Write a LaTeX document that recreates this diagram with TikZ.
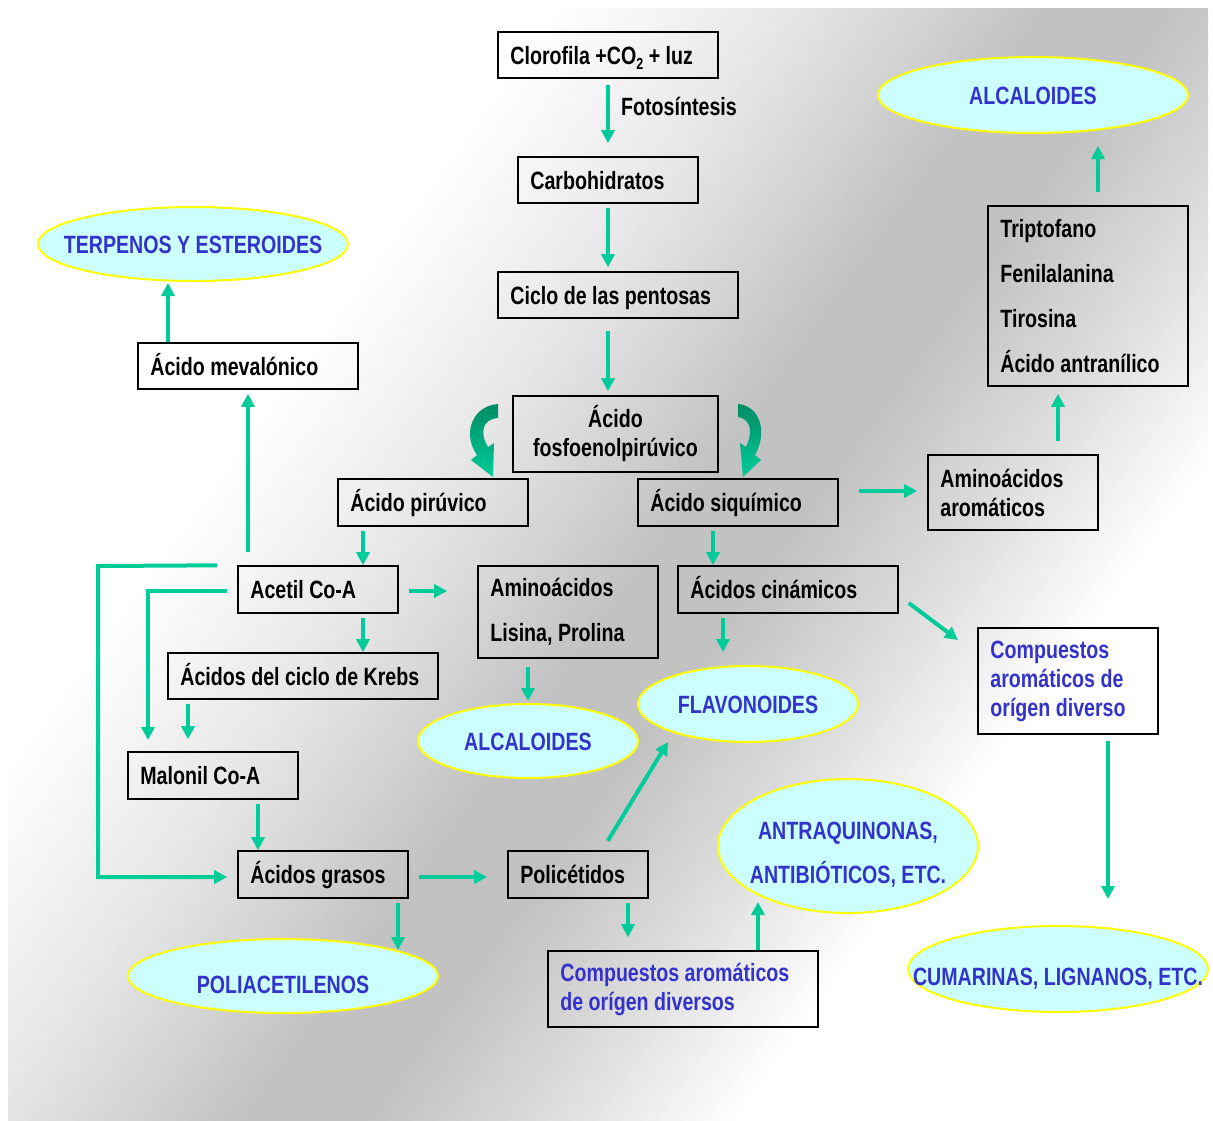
\documentclass[tikz,border=0pt]{standalone}
\usepackage{fontspec}
\setmainfont{Liberation Sans}[FakeStretch=0.785]
\usetikzlibrary{arrows.meta,shapes.geometric}
\definecolor{arrc}{RGB}{0,204,153}
\definecolor{darc}{RGB}{0,140,100}
\definecolor{bluet}{RGB}{51,51,204}
\definecolor{ellf}{RGB}{204,255,255}
\definecolor{elld}{RGB}{255,255,0}
\newcommand\labf{\bfseries\fontsize{25}{29}\selectfont}
\newcommand\mkbox[8][]{%
 \pgfmathsetmacro\bw{#5-#3}\pgfmathsetmacro\bh{#6-#4}%
 \node[box,minimum width=\bw pt,minimum height=\bh pt] (#2) at ({(#3+#5)/2},{(#4+#6)/2}) {};
 \node[btext,align=#7,anchor=west,#1] (#2t) at ([xshift=13pt]#2.west) {#8};}
\begin{document}
\begin{tikzpicture}[x=1pt,y=-1pt,
 box/.style={draw=black, line width=1.6pt, inner sep=0pt},
 btext/.style={font=\labf, inner sep=0pt},
 sl/.style={text height=23pt, text depth=5pt},
 ell/.style={ellipse, draw=elld, fill=ellf, line width=2pt, inner sep=0pt},
 etext/.style={text=bluet, font=\labf, inner sep=0pt, align=center},
 arr/.style={draw=arrc, line width=4pt, -{Triangle[length=13pt,width=13pt]}},
]
\useasboundingbox (0,0) rectangle (1213,1120);
% background gradient
\begin{scope}
\clip (8,8) rectangle (1208,1120);
\foreach \s in {440,450,...,1260}{
 \pgfmathsetmacro\gv{\s<450 ? 1 : (\s<650 ? 1-0.1*(\s-450)/200 : (\s<850 ? 0.9-0.14*(\s-650)/200 : (\s<950 ? 0.76 : (\s<1100 ? 0.76+0.11*(\s-950)/150 : min(1,0.87+0.13*(\s-1100)/150)))))}
 \definecolor{bgc}{gray}{\gv}
 \fill[bgc] ({0.81*\s-1170},{0.585*\s+1620}) -- ({0.81*\s+1170},{0.585*\s-1620}) -- ({0.81*(\s+11)+1170},{0.585*(\s+11)-1620}) -- ({0.81*(\s+11)-1170},{0.585*(\s+11)+1620}) -- cycle;
}
\end{scope}

% boxes
\mkbox[sl]{clor}{498}{32}{718}{78}{left}{Clorofila +CO\raisebox{-5pt}{\fontsize{16}{16}\selectfont 2} + luz}
\node[btext, sl, anchor=west] (foto) at (621,106) {Fotosíntesis};
\mkbox[sl]{carb}{518}{157}{698}{203}{left}{Carbohidratos}
\mkbox[sl]{ciclo}{498}{272}{738}{318}{left}{Ciclo de las pentosas}
\node[box,minimum width=205pt,minimum height=76pt] (fos) at (615.5,434) {};
\node[btext,align=center] (fost) at (fos.center) {Ácido\\fosfoenolpirúvico};
\mkbox[sl]{pir}{338}{479}{528}{526}{left}{Ácido pirúvico}
\mkbox[sl]{siq}{638}{479}{838}{526}{left}{Ácido siquímico}
\mkbox{aro}{928}{455}{1098}{530}{left}{Aminoácidos\\aromáticos}
\mkbox{trip}{988}{206}{1188}{386}{left}{Triptofano\\[16pt]Fenilalanina\\[16pt]Tirosina\\[16pt]Ácido antranílico}
\mkbox[sl]{mev}{138}{343}{358}{389}{left}{Ácido mevalónico}
\mkbox[sl]{acet}{238}{566}{398}{613}{left}{Acetil Co-A}
\mkbox{lis}{478}{566}{658}{658}{left}{Aminoácidos\\[16pt]Lisina, Prolina}
\mkbox[sl]{cin}{678}{566}{898}{613}{left}{Ácidos cinámicos}
\mkbox[text=bluet]{comp1}{978}{628}{1158}{734}{left}{Compuestos\\aromáticos de\\orígen diverso}
\mkbox[sl]{krebs}{168}{653}{438}{699}{left}{Ácidos del ciclo de Krebs}
\mkbox[sl]{mal}{128}{752}{298}{799}{left}{Malonil Co-A}
\mkbox[sl]{gras}{238}{851}{408}{898}{left}{Ácidos grasos}
\mkbox[sl]{poli}{508}{851}{648}{898}{left}{Policétidos}
\mkbox[text=bluet]{comp2}{548}{951}{818}{1027}{left}{Compuestos aromáticos\\de orígen diversos}

% ellipses
\node[ell, minimum width=310pt, minimum height=76pt] (alc1) at (1033,95) {};
\node[etext] (alc1t) at (1033,96) {ALCALOIDES};
\node[ell, minimum width=310pt, minimum height=74pt] (terp) at (193,244) {};
\node[etext] (terpt) at (193,245) {TERPENOS Y ESTEROIDES};
\node[ell, minimum width=220pt, minimum height=76pt] (flav) at (748,704) {};
\node[etext] (flavt) at (748,705) {FLAVONOIDES};
\node[ell, minimum width=220pt, minimum height=74pt] (alc2) at (528,741) {};
\node[etext] (alc2t) at (528,742) {ALCALOIDES};
\node[ell, minimum width=260pt, minimum height=134pt] (antra) at (848,846) {};
\node[etext] (antrat) at (848,855) {ANTRAQUINONAS,\\[15pt]ANTIBIÓTICOS, ETC.};
\node[ell, minimum width=300pt, minimum height=86pt] (cum) at (1058,969) {};
\node[etext] (cumt) at (1058,979) {CUMARINAS, LIGNANOS, ETC.};
\node[ell, minimum width=310pt, minimum height=74pt] (poliac) at (283,976) {};
\node[etext] (poliact) at (283,985) {POLIACETILENOS};

% curved arrows
\shade[top color=darc, bottom color=arrc] (498,404) .. controls (472,406) and (462,434) .. (477,455) -- (471,460) -- (493,477) -- (494,443) -- (488,447) .. controls (479,432) and (483,419) .. (498,418) -- cycle;
\shade[top color=darc, bottom color=arrc] (738,404) .. controls (760,406) and (768,432) .. (755,455) -- (761,460) -- (743,477) -- (740,443) -- (746,447) .. controls (753,432) and (751,419) .. (738,417) -- cycle;

% arrows
\draw[arr, shorten <=6pt, shorten >=13pt] (clor.south) -- (carb.north);
\draw[arr, shorten <=4pt, shorten >=4pt] (carb.south) -- (ciclo.north -| carb.south);
\draw[arr, shorten <=12pt, shorten >=4pt] (ciclo.south -| carb.south) -- (fos.north -| carb.south);
\draw[arr, shorten <=4pt] (pir.south -| 363,0) -- (acet.north -| 363,0);
\draw[arr, shorten <=4pt] (siq.south -| 713,0) -- (cin.north -| 713,0);
\draw[arr, shorten <=20pt, shorten >=10pt] (siq.east |- 0,491) -- (aro.west |- 0,491);
\draw[arr, shorten <=13pt, shorten >=7pt] (aro.north -| 1058,0) -- (trip.south -| 1058,0);
\draw[arr, shorten <=13pt, shorten >=12pt] (trip.north -| 1098,0) -- (alc1.south -| 1098,0);
\draw[arr, shorten >=1pt] (mev.north -| 168,0) -- (terp.south -| 168,0);
\draw[arr, shorten <=13pt, shorten >=4pt] (acet.north -| 248,0) -- (mev.south -| 248,0);
\draw[arr, shorten <=10pt, shorten >=30pt] (acet.east |- 0,591) -- (lis.west |- 0,591);
\draw[arr, shorten <=4pt] (acet.south -| 363,0) -- (krebs.north -| 363,0);
\draw[arr, shorten <=4pt, shorten >=12pt] (krebs.south -| 188,0) -- (mal.north -| 188,0);
\coordinate (k1) at (148,591);
\coordinate (k2) at (148,740);
\draw[arr, shorten <=10pt] (acet.west |- 0,591) -- (k1) -- (k2);
\coordinate (g1) at (98,566);
\coordinate (g2) at (98,877);
\draw[arr, shorten <=20pt, shorten >=10pt] (acet.north west) -- (g1) -- (g2) -- (gras.west |- 0,877);
\draw[arr, shorten <=4pt] (mal.south -| 258,0) -- (gras.north -| 258,0);
\draw[arr, shorten <=10pt, shorten >=20pt] (gras.east |- 0,877) -- (poli.west |- 0,877);
\coordinate (pa) at (398,950);
\draw[arr, shorten <=4pt] (gras.south -| 398,0) -- (pa);
\coordinate (fl) at (668,742);
\draw[arr, shorten <=11pt] (poli.north -| 602,0) -- (fl);
\draw[arr, shorten <=4pt, shorten >=13pt] (poli.south -| 628,0) -- (comp2.north -| 628,0);
\coordinate (an) at (758,902);
\draw[arr] (comp2.north -| 758,0) -- (an);
\draw[arr, shorten <=8pt, shorten >=2pt] (lis.south -| 528,0) -- (alc2.north -| 528,0);
\draw[arr, shorten <=4pt, shorten >=13pt] (cin.south -| 723,0) -- (flav.north -| 723,0);
\coordinate (cd1) at (958,640);
\draw[arr] ([xshift=10pt,yshift=-13.5pt]cin.east) -- (cd1);
\draw[arr, shorten <=6pt, shorten >=26pt] (comp1.south -| 1108,0) -- (cum.north -| 1108,0);
\end{tikzpicture}
\end{document}
